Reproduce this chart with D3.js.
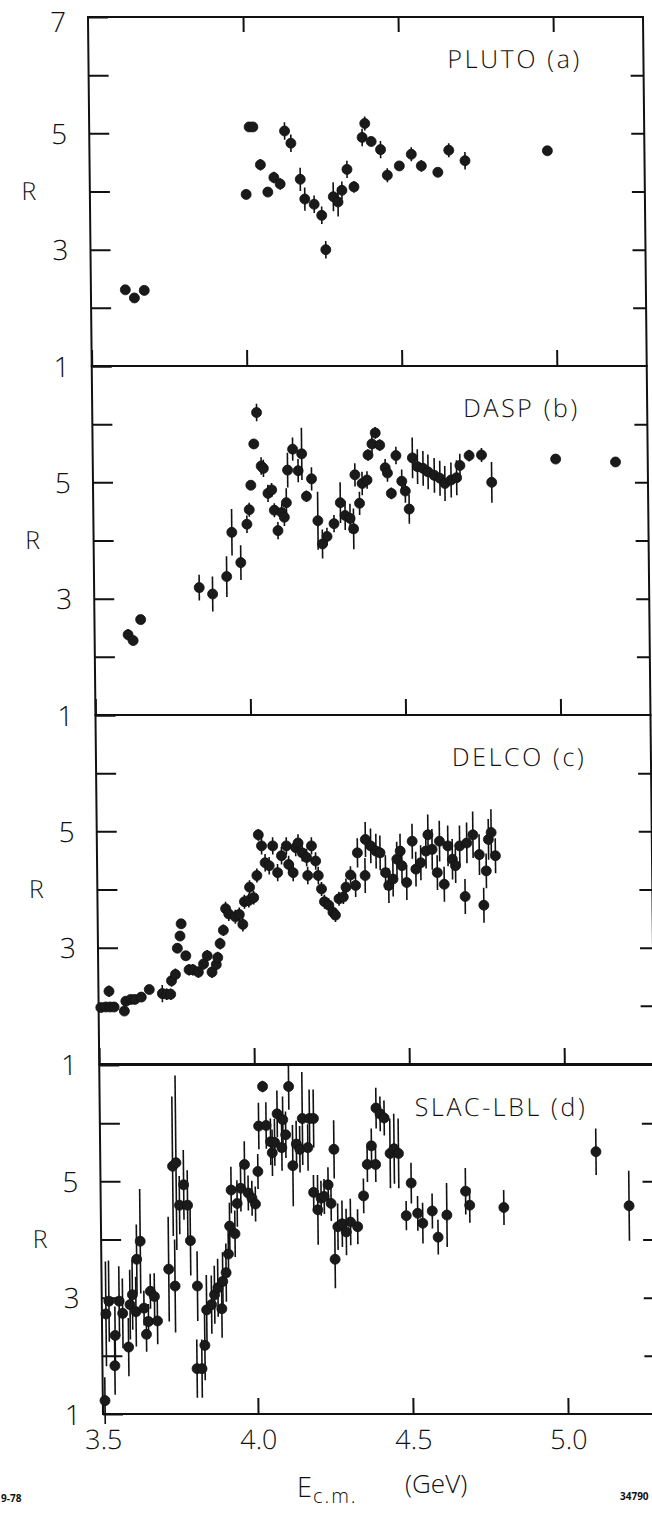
<!DOCTYPE html>
<html>
<head>
<meta charset="utf-8">
<script src="https://cdn.jsdelivr.net/npm/d3@7"></script>
<style>
  body { margin: 0; background: #fff; }
  svg { display: block; }
  text { font-family: "DejaVu Sans ExtraLight", "Open Sans", "Liberation Sans", sans-serif; font-weight: 300; fill: #111; }
</style>
</head>
<body>
<svg width="652" height="1514"></svg>
<script>
// ---- datos ----
// PLUTO (a)
const plutoE   = [3.611,3.64,3.672,4.004,4.016,4.028,4.051,4.074,4.094,4.114,4.13,4.15,4.179,4.193,4.223,4.247,4.259,4.285,4.30,4.313,4.33,4.352,4.38,4.389,4.409,4.439,4.46,4.499,4.538,4.57,4.623,4.659,4.711,4.977];
const plutoR   = [2.31,2.17,2.30,3.95,5.11,5.11,4.46,3.99,4.24,4.13,5.04,4.83,4.21,3.87,3.78,3.59,3.0,3.91,3.82,4.02,4.38,4.08,4.93,5.17,4.86,4.72,4.28,4.44,4.64,4.44,4.33,4.71,4.53,4.70];
const plutoErr = [0.05,0.05,0.05,0.08,0.05,0.05,0.1,0.08,0.1,0.1,0.15,0.15,0.2,0.2,0.15,0.15,0.15,0.25,0.25,0.15,0.15,0.1,0.15,0.12,0.08,0.15,0.12,0.05,0.12,0.1,0.05,0.12,0.15,0];

// DASP (b)
const daspE   = [3.608,3.624,3.649,3.839,3.882,3.928,3.946,3.974,3.995,4.003,4.009,4.02,4.03,4.043,4.05,4.064,4.076,4.084,4.095,4.108,4.116,4.123,4.128,4.145,4.162,4.174,4.188,4.205,4.224,4.238,4.253,4.276,4.297,4.312,4.328,4.339,4.345,4.359,4.368,4.384,4.388,4.401,4.412,4.426,4.443,4.45,4.462,4.478,4.496,4.507,4.519,4.531,4.547,4.565,4.581,4.601,4.619,4.635,4.655,4.673,4.684,4.714,4.754,4.786,4.993,5.186];
const daspR   = [2.38,2.28,2.64,3.19,3.08,3.38,4.14,3.62,4.28,4.53,4.95,5.66,6.20,5.28,5.24,4.81,4.87,4.52,4.17,4.48,4.40,4.65,5.21,5.57,5.20,5.49,4.76,5.06,4.34,3.94,4.07,4.29,4.65,4.43,4.38,4.20,5.13,4.64,4.98,5.04,5.47,5.66,5.85,5.64,5.25,5.16,4.81,5.46,5.02,4.85,4.54,5.42,5.27,5.24,5.18,5.12,5.07,4.98,5.04,5.08,5.29,5.46,5.47,5.00,5.40,5.35];
const daspErr = [0.1,0.08,0.05,0.22,0.3,0.35,0.4,0.3,0.15,0.12,0.08,0.08,0.15,0.15,0.15,0.15,0.12,0.12,0.15,0.15,0.15,0.25,0.3,0.2,0.2,0.45,0.1,0.2,0.5,0.25,0.15,0.15,0.35,0.25,0.25,0.35,0.2,0.2,0.2,0.15,0.1,0.15,0.1,0.1,0.15,0.15,0.1,0.15,0.2,0.2,0.25,0.35,0.3,0.3,0.3,0.3,0.3,0.3,0.3,0.3,0.2,0.1,0.12,0.35,0,0];

// DELCO (c)
const delcoE   = [3.507,3.523,3.537,3.534,3.55,3.583,3.588,3.604,3.617,3.638,3.664,3.706,3.72,3.733,3.736,3.749,3.756,3.765,3.769,3.783,3.793,3.805,3.823,3.84,3.852,3.867,3.881,3.886,3.894,3.905,3.913,3.923,3.944,3.957,3.968,3.974,3.988,3.991,4.004,4.015,4.021,4.031,4.042,4.055,4.067,4.082,4.095,4.111,4.118,4.132,4.141,4.149,4.162,4.176,4.179,4.192,4.205,4.213,4.223,4.232,4.246,4.259,4.267,4.279,4.293,4.302,4.317,4.333,4.34,4.364,4.366,4.383,4.40,4.413,4.43,4.44,4.454,4.467,4.478,4.483,4.498,4.517,4.528,4.544,4.561,4.568,4.581,4.597,4.605,4.619,4.632,4.646,4.656,4.67,4.686,4.693,4.713,4.733,4.746,4.755,4.763,4.772,4.785];
const delcoR   = [1.97,1.98,1.98,2.25,1.98,1.91,2.08,2.11,2.11,2.15,2.28,2.21,2.20,2.20,2.43,2.54,2.99,3.20,3.41,2.86,2.62,2.62,2.58,2.72,2.86,2.58,2.71,2.83,3.07,3.30,3.67,3.58,3.53,3.57,3.40,3.79,3.81,4.04,3.86,4.24,4.94,4.75,4.46,4.41,4.75,4.29,4.58,4.75,4.43,4.29,4.72,4.80,4.63,4.55,4.24,4.75,4.49,4.24,4.01,3.79,3.73,3.61,3.56,3.84,3.87,4.04,4.25,4.07,4.63,4.24,4.86,4.75,4.66,4.63,4.29,4.07,4.18,4.52,4.66,4.41,4.12,4.83,4.35,4.46,4.66,4.94,4.69,4.29,4.83,4.09,4.75,4.52,4.41,4.75,3.88,4.80,4.94,4.60,3.73,4.32,4.86,4.98,4.58];
const delcoErr = [0.05,0.05,0.05,0.1,0.05,0.05,0.05,0.05,0.05,0.05,0.05,0.15,0.1,0.1,0.1,0.1,0.08,0.08,0.08,0.08,0.1,0.1,0.1,0.1,0.1,0.1,0.1,0.1,0.1,0.1,0.12,0.12,0.12,0.12,0.12,0.12,0.12,0.12,0.12,0.12,0.1,0.15,0.15,0.15,0.15,0.15,0.15,0.15,0.15,0.15,0.15,0.15,0.15,0.15,0.15,0.15,0.15,0.15,0.12,0.12,0.12,0.12,0.12,0.12,0.12,0.15,0.15,0.2,0.25,0.3,0.3,0.3,0.3,0.3,0.3,0.3,0.3,0.3,0.3,0.3,0.3,0.3,0.3,0.3,0.3,0.35,0.35,0.3,0.35,0.3,0.35,0.35,0.3,0.35,0.3,0.35,0.4,0.35,0.3,0.3,0.35,0.4,0.3];

// SLAC-LBL (d)
const slacE   = [3.507,3.513,3.523,3.54,3.542,3.556,3.567,3.585,3.591,3.599,3.61,3.614,3.626,3.636,3.643,3.65,3.657,3.67,3.679,3.717,3.733,3.737,3.744,3.754,3.768,3.78,3.788,3.805,3.809,3.821,3.831,3.838,3.854,3.864,3.875,3.887,3.891,3.902,3.91,3.915,3.921,3.932,3.94,3.952,3.965,3.976,3.988,3.999,4.008,4.012,4.026,4.036,4.05,4.055,4.063,4.072,4.086,4.09,4.099,4.11,4.121,4.133,4.144,4.153,4.17,4.176,4.189,4.187,4.20,4.211,4.221,4.234,4.243,4.254,4.254,4.264,4.278,4.291,4.305,4.328,4.348,4.361,4.375,4.388,4.391,4.404,4.417,4.435,4.448,4.462,4.485,4.502,4.522,4.538,4.569,4.587,4.616,4.677,4.69,4.80,5.099,5.204];
const slacR   = [1.23,2.72,2.94,1.83,2.35,2.94,2.73,2.15,2.88,3.05,2.76,3.66,3.97,2.82,2.37,2.59,3.11,3.02,2.60,3.49,5.26,3.20,5.32,4.59,4.94,4.59,3.98,1.78,3.20,1.78,2.18,2.79,2.88,3.05,3.17,2.81,3.28,3.43,3.75,4.23,4.85,4.10,4.62,4.88,5.29,4.80,4.71,4.61,5.17,5.95,6.63,5.96,5.68,5.49,5.67,6.16,5.58,6.06,5.80,6.63,5.27,5.64,5.55,6.08,5.58,6.08,6.08,4.81,4.51,4.71,4.74,4.94,4.62,3.66,5.55,4.22,4.27,4.13,4.30,4.22,4.75,5.29,5.61,5.29,6.26,6.16,6.09,5.48,5.56,5.48,4.41,4.97,4.45,4.28,4.49,4.04,4.42,4.83,4.59,4.55,5.51,4.58];
const slacErr = [0.4,0.9,0.7,0.5,0.5,0.6,0.6,0.5,0.6,0.6,0.6,0.6,0.9,0.3,0.3,0.3,0.3,0.4,0.4,0.9,1.2,0.8,1.5,0.5,0.6,0.6,0.6,0.5,0.6,0.5,0.6,0.6,0.5,0.5,0.5,0.5,0.5,0.5,0.4,0.4,0.4,0.4,0.4,0.4,0.4,0.3,0.3,0.3,0.3,0.4,0.1,0.4,0.4,0.4,0.4,0.4,0.4,0.4,0.4,0.4,0.7,0.4,0.4,0.8,0.4,0.5,0.5,0.3,0.6,0.3,0.3,0.3,0.3,0.5,0.5,0.4,0.4,0.4,0.4,0.3,0.3,0.3,0.3,0.3,0.35,0.3,0.3,0.6,0.6,0.6,0.25,0.35,0.3,0.35,0.3,0.3,0.55,0.4,0.3,0.3,0.4,0.6];

// etiquetas de los ejes
const panelNames = ["PLUTO (a)", "DASP (b)", "DELCO (c)", "SLAC-LBL (d)"];
const xTickValues = [3.5, 4.0, 4.5, 5.0];
const yTickValues = [1, 2, 3, 4, 5, 6, 7];
const yLabelled = [1, 3, 5];

// ---- layout ----
const svg = d3.select("svg");
svg.append("rect").attr("width", 652).attr("height", 1514).attr("fill", "#fff");

const panelTop = [17, 366, 715, 1065];
const panelH = 349;
const plotW = 555;
const skewDeg = Math.atan(15 / 1397) * 180 / Math.PI; // la figura escaneada esta algo inclinada

const x = d3.scaleLinear().domain([3.5, 5.29]).range([0, plotW]);

const fig = svg.append("g").attr("transform", `skewX(${skewDeg})`)
  .append("g").attr("transform", "translate(87.8,0)");

const panels = [
  { E: plutoE, R: plutoR, err: plutoErr, labelX: 359 },
  { E: daspE, R: daspR, err: daspErr, labelX: 371 },
  { E: delcoE, R: delcoR, err: delcoErr, labelX: 356 },
  { E: slacE, R: slacR, err: slacErr, labelX: 315 }
];

panels.forEach((p, i) => {
  const top = panelTop[i];
  const y = d3.scaleLinear().domain([1, 7]).range([top + panelH, top]);
  const g = fig.append("g");

  // marco
  g.append("rect")
    .attr("x", 0).attr("y", top)
    .attr("width", plotW).attr("height", panelH)
    .attr("fill", "none").attr("stroke", "#111").attr("stroke-width", 2);

  // eje izquierdo (ticks hacia dentro)
  const yAxis = d3.axisLeft(y).tickValues(yTickValues)
    .tickSizeInner(-20).tickSizeOuter(0).tickPadding(22)
    .tickFormat(d => (yLabelled.includes(d) || (d === 7 && i === 0)) ? d : "");
  const ya = g.append("g").call(yAxis);
  ya.select(".domain").remove();
  ya.selectAll("line").attr("stroke", "#111").attr("stroke-width", 2);
  ya.selectAll("text").style("font-size", "28px").attr("fill", "#111")
    .attr("dy", d => d === 7 ? "0.52em" : "0.36em");

  // eje derecho
  const yr = g.append("g").attr("transform", `translate(${plotW},0)`)
    .call(d3.axisRight(y).tickValues([2, 3, 4, 5, 6]).tickSizeInner(-13).tickSizeOuter(0).tickFormat(""));
  yr.select(".domain").remove();
  yr.selectAll("line").attr("stroke", "#111").attr("stroke-width", 2);

  // eje inferior
  const xb = g.append("g").attr("transform", `translate(0,${top + panelH})`)
    .call(d3.axisBottom(x).tickValues(xTickValues).tickSizeInner(-16).tickSizeOuter(0)
      .tickPadding(16).tickFormat(i === 3 ? d3.format(".1f") : ""));
  xb.select(".domain").remove();
  xb.selectAll("line").attr("stroke", "#111").attr("stroke-width", 2);
  xb.selectAll("text").style("font-size", "27px").attr("fill", "#111");

  if (i === 0) {
    const xt = g.append("g").attr("transform", `translate(0,${top})`)
      .call(d3.axisTop(x).tickValues([4.0, 4.5, 5.0]).tickSizeInner(-15).tickSizeOuter(0).tickFormat(""));
    xt.select(".domain").remove();
    xt.selectAll("line").attr("stroke", "#111").attr("stroke-width", 2);
  }

  // R
  g.append("text")
    .attr("x", -61).attr("y", y(4)).attr("dy", "0.36em")
    .attr("text-anchor", "middle")
    .style("font-size", "25px")
    .text("R");

  // nombre del experimento
  g.append("text")
    .attr("x", p.labelX).attr("y", top + 51)
    .style("font-size", "25px").style("letter-spacing", "2.6px")
    .text(panelNames[i]);

  const pts = p.E.map((e, k) => ({ e, r: p.R[k], s: p.err[k] }));

  // barras de error
  g.selectAll(".err").data(pts.filter(d => d.s > 0)).enter()
    .append("line").attr("class", "err")
    .attr("x1", d => x(d.e)).attr("x2", d => x(d.e))
    .attr("y1", d => y(d.r - d.s)).attr("y2", d => y(d.r + d.s))
    .attr("stroke", "#111").attr("stroke-width", 1.6);

  // puntos
  g.selectAll(".pt").data(pts).enter()
    .append("circle").attr("class", "pt")
    .attr("cx", d => x(d.e)).attr("cy", d => y(d.r))
    .attr("r", 5)
    .attr("fill", "#1a1a1a").attr("stroke", "#111").attr("stroke-width", 0.8);
});

// titulo del eje x
const xt = svg.append("text").attr("x", 297).attr("y", 1497).style("font-size", "27px");
xt.append("tspan").text("E");
xt.append("tspan").attr("dy", 6).attr("dx", 1).style("font-size", "20px").style("letter-spacing", "2px").text("c.m.");
svg.append("text").attr("x", 405).attr("y", 1493).style("font-size", "26px").text("(GeV)");

svg.append("text").attr("x", 1).attr("y", 1502).style("font-size", "10px").style("font-weight", "bold").text("9-78");
svg.append("text").attr("x", 620).attr("y", 1500).style("font-size", "10px").style("font-weight", "bold").text("34790");
</script>
</body>
</html>
